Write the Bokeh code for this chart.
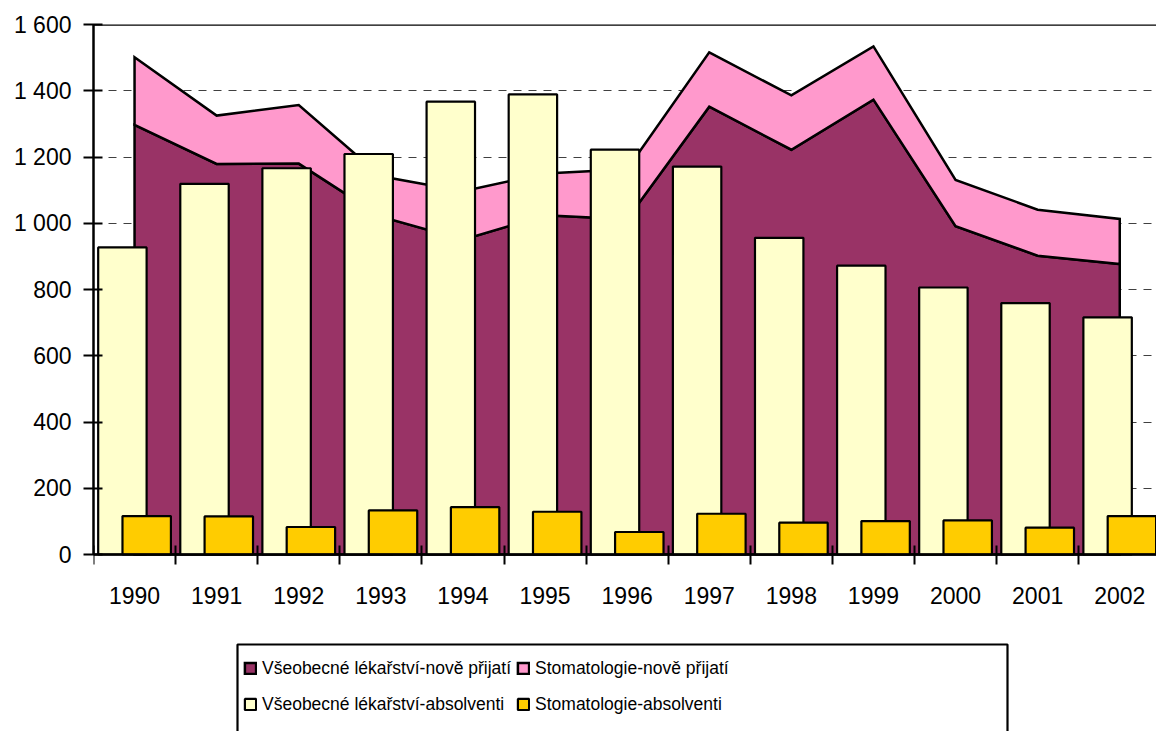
from bokeh.plotting import figure
from bokeh.models import Range1d, FixedTicker, Legend, LegendItem, Span, BoxAnnotation
from bokeh.embed import file_html
from bokeh.resources import INLINE

years = ["1990", "1991", "1992", "1993", "1994", "1995", "1996",
         "1997", "1998", "1999", "2000", "2001", "2002"]
vl_prijati = [1297, 1179, 1180, 1020, 950, 1024, 1012, 1352, 1222, 1373, 991, 902, 877]
stom_prijati = [204, 146, 177, 122, 147, 126, 151, 164, 164, 161, 140, 139, 136]
vl_absolventi = [927, 1119, 1166, 1209, 1367, 1389, 1222, 1171, 956, 872, 806, 759, 716]
stom_absolventi = [116, 115, 83, 133, 143, 129, 68, 123, 96, 101, 103, 81, 116]
y_tick_values = [0, 200, 400, 600, 800, 1000, 1200, 1400, 1600]
y_tick_labels = ["0", "200", "400", "600", "800", "1 000", "1 200", "1 400", "1 600"]
series_names = ["Všeobecné lékařství-nově přijatí", "Stomatologie-nově přijatí",
                "Všeobecné lékařství-absolventi", "Stomatologie-absolventi"]

FONT = "Liberation Sans"
W, H = 1156, 731
LEFT, TOP, AXIS_Y = 93, 24, 554          # pixel layout of the plotting area
CAT_W = 82.1                              # pixel width of one category
YMAX = 1600
px_per_unit = (AXIS_Y - TOP) / YMAX
y_start = -(H - AXIS_Y) / px_per_unit     # frame runs on below the axis to hold the legend
x_end = (W - LEFT) / CAT_W

n = len(years)
centers = [i + 0.5 for i in range(n)]
totals = [a + b for a, b in zip(vl_prijati, stom_prijati)]

p = figure(width=W, height=H, output_backend="svg", toolbar_location=None,
           x_range=Range1d(0, x_end), y_range=Range1d(y_start, YMAX),
           min_border_left=LEFT, min_border_right=0, min_border_top=TOP,
           min_border_bottom=0)
p.outline_line_color = None
p.background_fill_color = "white"
p.border_fill_color = "white"

# grid
p.xgrid.visible = False
p.ygrid.ticker = FixedTicker(ticks=y_tick_values)
p.ygrid.grid_line_color = "#404040"
p.ygrid.grid_line_width = 1.2
p.ygrid.grid_line_dash = "8 7"

# areas (stacked)
r_vl = p.patch([centers[0]] + centers + [centers[-1]], [0] + vl_prijati + [0],
               fill_color="#993366", line_color="black", line_width=2.5,
               line_join="miter")
r_st = p.patch(centers + centers[::-1], totals + vl_prijati[::-1],
               fill_color="#FF99CC", line_color="black", line_width=2.5,
               line_join="miter")

# bars
r_vla = p.vbar(x=[c - 0.148 for c in centers], top=vl_absolventi, width=0.59,
               fill_color="#FFFFCC", line_color="black", line_width=2.2)
r_sta = p.vbar(x=[c + 0.148 for c in centers], top=stom_absolventi, width=0.59,
               fill_color="#FFCC00", line_color="black", line_width=2.2)

# top border
p.add_layout(Span(location=YMAX, dimension="width", line_color="black", line_width=2.5))

# y axis
p.yaxis.ticker = FixedTicker(ticks=y_tick_values)
p.yaxis.bounds = (0, YMAX)
p.yaxis.major_label_overrides = {v: t for v, t in zip(y_tick_values, y_tick_labels)}
p.yaxis.major_tick_in = 9
p.yaxis.major_tick_out = 10
p.yaxis.minor_tick_line_color = None
p.yaxis.major_label_standoff = 12

# x axis at y = 0
p.xaxis.fixed_location = 0
p.xaxis.ticker = FixedTicker(ticks=centers, minor_ticks=list(range(n + 1)))
p.xaxis.major_label_overrides = {c: y for c, y in zip(centers, years)}
p.xaxis.major_tick_line_color = None
p.xaxis.minor_tick_in = 9
p.xaxis.minor_tick_out = 10
p.xaxis.minor_tick_line_color = "black"
p.xaxis.minor_tick_line_width = 2
p.xaxis.major_label_standoff = 22

for ax in (p.xaxis, p.yaxis):
    ax.axis_line_color = "black"
    ax.axis_line_width = 2.5
    ax.major_tick_line_width = 2
    ax.major_label_text_font = FONT
    ax.major_label_text_font_size = "23px"
    ax.major_label_text_color = "black"

# legend (column-major: left column general medicine, right column dentistry)
LEG_LEFT, LEG_TOP, LEG_RIGHT = 237, 644, 1007
legend = Legend(items=[
    LegendItem(label=series_names[0], renderers=[r_vl]),
    LegendItem(label=series_names[2], renderers=[r_vla]),
    LegendItem(label=series_names[1], renderers=[r_st]),
    LegendItem(label=series_names[3], renderers=[r_sta]),
], location=(LEG_LEFT + 6 - LEFT, 11.5), orientation="vertical", ncols=2,
    padding=0, spacing=5, margin=0, glyph_width=14, glyph_height=14,
    label_standoff=5, label_height=31,
    label_text_font=FONT, label_text_font_size="17.5px",
    label_text_color="black",
    border_line_color=None, background_fill_alpha=0)
p.add_layout(legend, "center")

box = BoxAnnotation(left=(LEG_LEFT - LEFT) / CAT_W, right=(LEG_RIGHT - LEFT) / CAT_W,
                    top=-(LEG_TOP - AXIS_Y) / px_per_unit, bottom=y_start - 40,
                    fill_alpha=0, line_color="black", line_width=2.2, line_alpha=1)
p.add_layout(box)

open("out.html", "w").write(file_html(p, INLINE))
